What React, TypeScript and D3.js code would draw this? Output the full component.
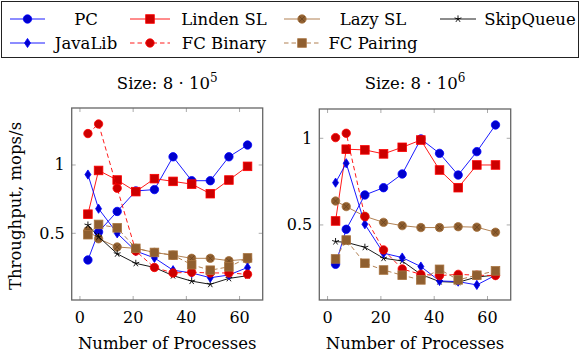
import React from 'react';
import * as d3 from 'd3';

const procs = [3, 7, 14, 21, 28, 35, 42, 49, 56, 63];

// size 8*10^5
const pcA = [0.305, 0.51, 0.66, 0.81, 0.82, 1.06, 0.885, 0.885, 1.06, 1.146];
const lindenA = [0.64, 0.96, 0.89, 0.805, 0.9, 0.88, 0.86, 0.79, 0.89, 0.99];
const lazyA = [0.52, 0.46, 0.4, 0.39, 0.36, 0.34, 0.317, 0.317, 0.3, 0.31];
const skipA = [0.56, 0.475, 0.35, 0.28, 0.25, 0.19, 0.15, 0.127, 0.17, 0.19];
const javaA = [0.93, 0.68, 0.5, 0.37, 0.32, 0.23, 0.21, 0.175, 0.195, 0.25];
const fcBinA = [1.23, 1.3, 0.83, 0.37, 0.25, 0.21, 0.215, 0.21, 0.21, 0.2];
const fcPairA = [0.49, 0.565, 0.54, 0.39, 0.36, 0.34, 0.27, 0.23, 0.255, 0.32];

// size 8*10^6
const pcB = [0.273, 0.475, 0.673, 0.715, 0.794, 0.996, 0.913, 0.788, 0.923, 1.077];
const lindenB = [0.523, 0.937, 0.933, 0.91, 0.948, 0.99, 0.817, 0.715, 0.846, 0.846];
const lazyB = [0.638, 0.606, 0.55, 0.515, 0.496, 0.485, 0.485, 0.49, 0.487, 0.458];
const skipB = [0.404, 0.4, 0.371, 0.308, 0.292, 0.215, 0.173, 0.169, 0.2, 0.21];
const javaB = [0.744, 0.856, 0.504, 0.337, 0.312, 0.26, 0.177, 0.173, 0.154, 0.21];
const fcBinB = [1.004, 1.029, 0.548, 0.356, 0.246, 0.215, 0.208, 0.215, 0.21, 0.208];
const fcPairB = [0.304, 0.413, 0.279, 0.24, 0.21, 0.183, 0.244, 0.183, 0.21, 0.235];

const xTicks = [0, 20, 40, 60];
const yTicks = [0.5, 1];

const FONT = 'DejaVu Serif';
const FS = 16.5;

type Mark = 'circle' | 'square' | 'otimes' | 'star' | 'diamond';
interface Series { name: string; line: string; fill: string; mark: Mark; dashed: boolean; }

const seriesDefs: Series[] = [
  { name: 'PC', line: '#0000ff', fill: '#0000cc', mark: 'circle', dashed: false },
  { name: 'Linden SL', line: '#ff0000', fill: '#cc0000', mark: 'square', dashed: false },
  { name: 'Lazy SL', line: '#a8733f', fill: '#8f5f30', mark: 'otimes', dashed: false },
  { name: 'SkipQueue', line: '#000000', fill: '#000000', mark: 'star', dashed: false },
  { name: 'JavaLib', line: '#0000ff', fill: '#0000cc', mark: 'diamond', dashed: false },
  { name: 'FC Binary', line: '#ff0000', fill: '#cc0000', mark: 'circle', dashed: true },
  { name: 'FC Pairing', line: '#a8733f', fill: '#8f5f30', mark: 'square', dashed: true },
];

const drawOrder = ['PC', 'Linden SL', 'Lazy SL', 'SkipQueue', 'JavaLib', 'FC Binary', 'FC Pairing'];

const Marker = ({ s, x, y }: { s: Series; x: number; y: number }) => {
  const st = { fill: s.fill, stroke: s.line, strokeWidth: 0.8 };
  if (s.mark === 'circle') return <circle cx={x} cy={y} r={4.2} {...st} />;
  if (s.mark === 'square') return <rect x={x - 4.3} y={y - 4.3} width={8.6} height={8.6} {...st} />;
  if (s.mark === 'diamond')
    return <path d={`M${x},${y - 4.6}L${x + 3},${y}L${x},${y + 4.6}L${x - 3},${y}Z`} {...st} />;
  if (s.mark === 'otimes') {
    const r = 4.2, k = r * 0.7;
    return (
      <g>
        <circle cx={x} cy={y} r={r} {...st} />
        <path d={`M${x - k},${y - k}L${x + k},${y + k}M${x - k},${y + k}L${x + k},${y - k}`}
          stroke="#6b4420" strokeWidth={0.8} />
      </g>
    );
  }
  const d = d3.range(5).map(i => {
    const a = (-90 + 72 * i) * Math.PI / 180;
    return `M${x},${y}L${x + 3.6 * Math.cos(a)},${y + 3.6 * Math.sin(a)}`;
  }).join('');
  return <path d={d} stroke="#000" strokeWidth={0.9} fill="none" />;
};

interface PanelProps {
  left: number; right: number; top: number; bottom: number;
  yDomain: [number, number]; exp: string; data: Record<string, number[]>;
}

const Panel = ({ left, right, top, bottom, yDomain, exp, data }: PanelProps) => {
  const x = d3.scaleLinear().domain([-3.1, 68.7]).range([left, right]);
  const y = d3.scaleLinear().domain(yDomain).range([bottom, top]);
  const line = d3.line<number>().x((_, i) => x(procs[i])).y(v => y(v));
  const cx = (left + right) / 2;
  return (
    <g>
      {xTicks.map(t => (
        <g key={'x' + t}>
          <line x1={x(t)} x2={x(t)} y1={bottom} y2={bottom - 4} stroke="#aaa" />
          <line x1={x(t)} x2={x(t)} y1={top} y2={top + 4} stroke="#aaa" />
          <text x={x(t)} y={323} textAnchor="middle" fontSize={16}>{t}</text>
        </g>
      ))}
      {yTicks.map(t => (
        <g key={'y' + t}>
          <line x1={left} x2={left + 4} y1={y(t)} y2={y(t)} stroke="#aaa" />
          <line x1={right} x2={right - 4} y1={y(t)} y2={y(t)} stroke="#aaa" />
          <text x={left - 7} y={y(t) + 5.5} textAnchor="end" fontSize={16}>{t}</text>
        </g>
      ))}
      <g>
        {drawOrder.map(name => {
          const s = seriesDefs.find(d => d.name === name)!;
          const vals = data[name];
          return (
            <g key={name}>
              <path d={line(vals) || ''} fill="none" stroke={s.line} strokeWidth={0.9}
                strokeDasharray={s.dashed ? '4.5,3' : undefined} />
              {vals.map((v, i) => <Marker key={i} s={s} x={x(procs[i])} y={y(v)} />)}
            </g>
          );
        })}
      </g>
      <rect x={left} y={top} width={right - left} height={bottom - top} fill="none" stroke="#666" strokeWidth={1.3} />
      <text x={cx} y={89} textAnchor="middle" fontSize={FS}>
        Size: 8 · 10<tspan dy={-7} fontSize={12}>{exp}</tspan>
      </text>
      <text x={cx} y={349} textAnchor="middle" fontSize={FS}>Number of Processes</text>
    </g>
  );
};

const legendCols = [
  { lx: 10, rx: 45, tx: 86 },
  { lx: 130, rx: 170, tx: 224 },
  { lx: 284, rx: 320, tx: 373 },
  { lx: 440, rx: 476, tx: 530 },
];

const App = () => {
  const dataA: Record<string, number[]> = {
    'PC': pcA, 'Linden SL': lindenA, 'Lazy SL': lazyA, 'SkipQueue': skipA,
    'JavaLib': javaA, 'FC Binary': fcBinA, 'FC Pairing': fcPairA,
  };
  const dataB: Record<string, number[]> = {
    'PC': pcB, 'Linden SL': lindenB, 'Lazy SL': lazyB, 'SkipQueue': skipB,
    'JavaLib': javaB, 'FC Binary': fcBinB, 'FC Pairing': fcPairB,
  };
  return (
    <svg width={581} height={354}
      style={{ position: 'absolute', left: 0, top: 0, background: '#fff', fontFamily: FONT }}>
      <rect x={1.5} y={1.5} width={577} height={56} fill="#fff" stroke="#222" strokeWidth={1} />
      {seriesDefs.map((s, i) => {
        const col = legendCols[i % 4];
        const cy = i < 4 ? 19 : 43;
        const mx = (col.lx + col.rx) / 2;
        return (
          <g key={s.name}>
            <line x1={col.lx} x2={col.rx} y1={cy} y2={cy} stroke={s.line} strokeWidth={0.9}
              strokeDasharray={s.dashed ? '4.5,3' : undefined} />
            <Marker s={s} x={mx} y={cy} />
            <text x={col.tx} y={cy + 6} textAnchor="middle" fontSize={FS}>{s.name}</text>
          </g>
        );
      })}
      <Panel left={71.7} right={262.7} top={108} bottom={300} yDomain={[0.012, 1.417]} exp="5" data={dataA} />
      <Panel left={319.3} right={510.7} top={109} bottom={300} yDomain={[0.067, 1.169]} exp="6" data={dataB} />
      <text transform="translate(21,206) rotate(-90)" textAnchor="middle" fontSize={FS}>
        Throughput, mops/s
      </text>
    </svg>
  );
};

export default App;
